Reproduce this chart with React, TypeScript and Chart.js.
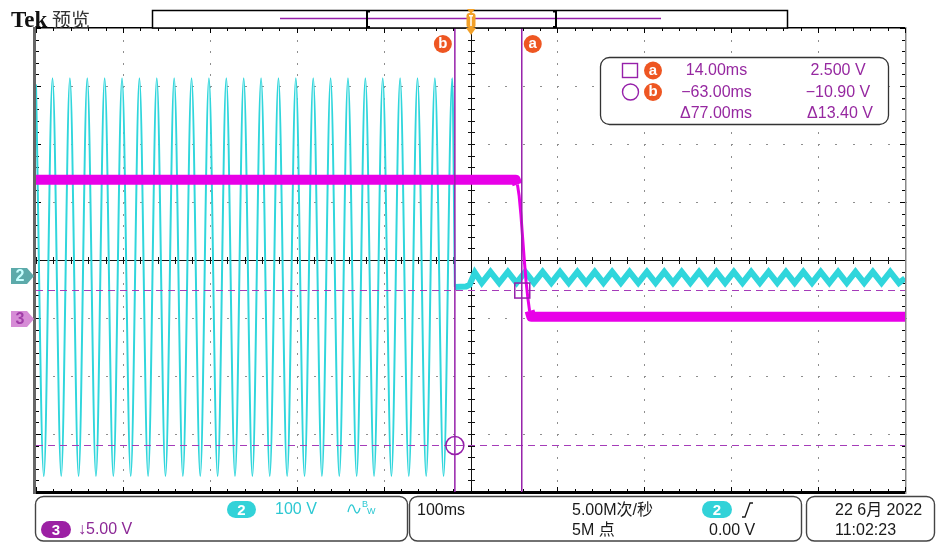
import React, { useEffect, useRef } from "react";
import { Chart, registerables } from "chart.js";

Chart.register(...registerables);

// Horizontal: 100 ms/div, 10 divisions (ms)
const timeMin = -545;
const timeMax = 455;
// CH2: 100 V/div, CH3: 5 V/div, 8 divisions
const ch2Min = -372.4;
const ch2Max = 427.6;
const ch3Min = -14.91;
const ch3Max = 25.09;

// Cursors
const cursorATime = 14;
const cursorBTime = -63;
const cursorAVolt = 2.5;
const cursorBVolt = -10.9;

// CH2 mains waveform before switch-off (ms, V)
const ch2SineTimes = [
  -545, -536, -526, -516, -506, -496, -486, -476, -466, -456, -446, -436, -426,
  -416, -406, -396, -386, -376, -366, -356, -346, -336, -326, -316, -306, -296,
  -286, -276, -266, -256, -246, -236, -226, -216, -206, -196, -186, -176, -166,
  -156, -146, -136, -126, -116, -106, -96, -86, -76, -66, -63,
];
const ch2SineVolts = [
  330, -345, 341, -345, 341, -345, 341, -345, 341, -345, 341, -345, 341,
  -345, 341, -345, 341, -345, 341, -345, 341, -345, 341, -345, 341, -345,
  341, -345, 341, -345, 341, -345, 341, -345, 341, -345, 341, -345, 341,
  -345, 341, -345, 341, -345, 341, -345, 341, -345, 341, -19,
];

// CH2 ripple after switch-off (ms, V)
const ch2RippleTimes = [
  -63, -50, -46, -40, -32, -22, -12, -2, 8, 18, 28, 38, 48, 58, 68, 78, 88, 98,
  108, 118, 128, 138, 148, 158, 168, 178, 188, 198, 208, 218, 228, 238, 248,
  258, 268, 278, 288, 298, 308, 318, 328, 338, 348, 358, 368, 378, 388, 398,
  408, 418, 428, 438, 448, 455,
];
const ch2RippleVolts = [
  -19, -18, -15, 6, -12, 7, -12, 7, -12, 7, -12, 7, -12, 7, -12, 7, -12, 7,
  -12, 7, -12, 7, -12, 7, -12, 7, -12, 7, -12, 7, -12, 7, -12, 7, -12, 7,
  -12, 7, -12, 7, -12, 7, -12, 7, -12, 7, -12, 7, -12, 7, -12, 7, -12, -4,
];

// CH3 output (ms, V)
const ch3Times = [-545, 7, 9, 11, 13, 15, 17, 19, 21, 23, 25, 455];
const ch3Volts = [12.0, 12.0, 11.6, 10.6, 9.0, 7.0, 5.0, 3.2, 1.8, 0.7, 0.2, 0.2];

const toPts = (t: number[], v: number[]) => t.map((x, i) => ({ x, y: v[i] }));

const CYAN = "rgb(48,214,220)";
const MAGENTA = "rgb(232,0,232)";
const PURPLE = "rgb(150,32,170)";
const ORANGE = "rgb(238,86,34)";
const SANS = '"Liberation Sans", "Noto Sans CJK SC", sans-serif';

function badge(ctx: CanvasRenderingContext2D, x: number, y: number, ch: string) {
  ctx.fillStyle = ORANGE;
  ctx.beginPath();
  ctx.arc(x, y, 9, 0, Math.PI * 2);
  ctx.fill();
  ctx.fillStyle = "#fff";
  ctx.font = `bold 15px ${SANS}`;
  ctx.textAlign = "center";
  ctx.textBaseline = "middle";
  ctx.fillText(ch, x, y);
}

function pill(ctx: CanvasRenderingContext2D, x: number, y: number, w: number, h: number, color: string, ch: string) {
  ctx.fillStyle = color;
  ctx.beginPath();
  ctx.roundRect(x, y, w, h, h / 2);
  ctx.fill();
  ctx.fillStyle = "#fff";
  ctx.font = `bold 15px ${SANS}`;
  ctx.textAlign = "center";
  ctx.textBaseline = "middle";
  ctx.fillText(ch, x + w / 2, y + h / 2 + 1);
}

function text(ctx: CanvasRenderingContext2D, s: string, x: number, y: number, color: string) {
  ctx.fillStyle = color;
  ctx.font = `16px ${SANS}`;
  ctx.textAlign = "left";
  ctx.textBaseline = "middle";
  ctx.fillText(s, x, y);
}

const graticule = {
  id: "graticule",
  beforeDatasetsDraw(chart: any) {
    const { ctx, chartArea: a } = chart;
    const dx = (a.right - a.left) / 10;
    const dy = (a.bottom - a.top) / 8;
    ctx.save();
    ctx.fillStyle = "#8e8e8e";
    for (let i = 1; i < 10; i++) {
      if (i === 5) continue;
      const x = Math.round(a.left + i * dx);
      for (let j = 0; j <= 40; j++) {
        const y = Math.round(a.top + (j * dy) / 5);
        ctx.fillRect(x, y, 1, 2);
      }
    }
    for (let j = 1; j < 8; j++) {
      if (j === 4) continue;
      const y = Math.round(a.top + j * dy);
      for (let i = 0; i <= 50; i++) {
        const x = Math.round(a.left + (i * dx) / 5);
        ctx.fillRect(x, y, 2, 1);
      }
    }
    // center cross
    ctx.fillStyle = "#111";
    const cx = Math.round(a.left + 5 * dx);
    const cy = Math.round(a.top + 4 * dy);
    ctx.fillRect(cx, a.top, 1, a.bottom - a.top);
    ctx.fillRect(a.left, cy, a.right - a.left, 1);
    for (let j = 0; j <= 40; j++) {
      const y = Math.round(a.top + (j * dy) / 5);
      ctx.fillRect(cx - 3, y, 7, 1);
    }
    for (let i = 0; i <= 50; i++) {
      const x = Math.round(a.left + (i * dx) / 5);
      ctx.fillRect(x, cy - 3, 1, 7);
    }
    // frame
    ctx.fillStyle = "#000";
    ctx.fillRect(a.left - 1, a.top - 1, a.right - a.left + 2, 1.5);
    ctx.fillRect(a.left - 1, a.bottom - 1, a.right - a.left + 2, 3);
    ctx.fillStyle = "#666";
    ctx.fillRect(a.left - 3, a.top - 1, 3, a.bottom - a.top + 3);
    ctx.fillStyle = "#888";
    ctx.fillRect(a.right, a.top - 1, 1.5, a.bottom - a.top + 3);
    ctx.fillStyle = "#000";
    for (let i = 0; i <= 50; i++) {
      const x = Math.round(a.left + (i * dx) / 5);
      const len = i % 5 === 0 ? 5 : 3;
      ctx.fillRect(x, a.top, 1, len);
      ctx.fillRect(x, a.bottom - len, 1, len);
    }
    for (let j = 0; j <= 40; j++) {
      const y = Math.round(a.top + (j * dy) / 5);
      const len = j % 5 === 0 ? 5 : 3;
      ctx.fillRect(a.left, y, len, 1);
      ctx.fillRect(a.right - len, y, len, 1);
    }
    ctx.restore();
  },
};

const overlay = {
  id: "overlay",
  afterDatasetsDraw(chart: any) {
    const { ctx, chartArea: a, scales } = chart;
    const xs = scales.x;
    const y3 = scales.y3;
    const xa = xs.getPixelForValue(cursorATime);
    const xb = xs.getPixelForValue(cursorBTime);
    const ya = y3.getPixelForValue(cursorAVolt);
    const yb = y3.getPixelForValue(cursorBVolt);
    ctx.save();
    ctx.strokeStyle = "rgb(165,60,185)";
    ctx.lineWidth = 1;
    ctx.setLineDash([7, 5]);
    [ya, yb].forEach((y) => {
      ctx.beginPath();
      ctx.moveTo(a.left, Math.round(y) + 0.5);
      ctx.lineTo(a.right, Math.round(y) + 0.5);
      ctx.stroke();
    });
    ctx.setLineDash([]);
    ctx.strokeStyle = PURPLE;
    ctx.lineWidth = 1.5;
    [xa, xb].forEach((x) => {
      ctx.beginPath();
      ctx.moveTo(x, a.top);
      ctx.lineTo(x, a.bottom);
      ctx.stroke();
    });
    ctx.strokeRect(xa - 7, ya - 7, 15, 15);
    ctx.beginPath();
    ctx.arc(xb, yb, 9, 0, Math.PI * 2);
    ctx.stroke();
    ctx.restore();
  },
  afterDraw(chart: any) {
    const { ctx, chartArea: a, scales } = chart;
    const xs = scales.x;
    const xa = xs.getPixelForValue(cursorATime);
    const xb = xs.getPixelForValue(cursorBTime);
    const y2g = scales.y2.getPixelForValue(0);
    const y3g = scales.y3.getPixelForValue(0);
    ctx.save();
    // header
    ctx.fillStyle = "#111";
    ctx.font = 'bold 23px "Liberation Serif", serif';
    ctx.textAlign = "left";
    ctx.textBaseline = "alphabetic";
    ctx.fillText("Tek", 11, 27);
    ctx.fillStyle = "#333";
    ctx.font = '19px "Noto Sans CJK SC", sans-serif';
    ctx.fillText("预览", 52, 27);

    // record-length bar
    ctx.fillStyle = "#fff";
    ctx.fillRect(152, 10, 636, 18);
    ctx.strokeStyle = "#000";
    ctx.lineWidth = 1.5;
    ctx.strokeRect(152.5, 10.5, 635, 17.5);
    ctx.strokeStyle = PURPLE;
    ctx.lineWidth = 1.5;
    ctx.beginPath();
    ctx.moveTo(280, 18.5);
    ctx.lineTo(661, 18.5);
    ctx.stroke();
    ctx.strokeStyle = "#000";
    ctx.lineWidth = 2;
    ctx.beginPath();
    ctx.moveTo(370, 11.5);
    ctx.lineTo(367, 11.5);
    ctx.lineTo(367, 27);
    ctx.lineTo(370, 27);
    ctx.moveTo(553, 11.5);
    ctx.lineTo(556, 11.5);
    ctx.lineTo(556, 27);
    ctx.lineTo(553, 27);
    ctx.stroke();
    // trigger marker
    const tx = Math.round(a.left + (a.right - a.left) / 2);
    ctx.fillStyle = "rgb(242,160,40)";
    ctx.beginPath();
    ctx.moveTo(tx - 4, 9);
    ctx.lineTo(tx + 4, 9);
    ctx.lineTo(tx, 14);
    ctx.fill();
    ctx.beginPath();
    ctx.roundRect(tx - 4.5, 13, 9, 15, 3);
    ctx.fill();
    ctx.beginPath();
    ctx.moveTo(tx - 5, 28);
    ctx.lineTo(tx + 5, 28);
    ctx.lineTo(tx, 35);
    ctx.fill();
    ctx.fillStyle = "#fff";
    ctx.fillRect(tx - 2, 15, 4, 1.5);
    ctx.fillRect(tx - 0.75, 15, 1.5, 11);

    // cursor badges
    badge(ctx, xb - 12, 44, "b");
    badge(ctx, xa + 11, 44, "a");

    // readout box
    ctx.fillStyle = "#fff";
    ctx.beginPath();
    ctx.roundRect(600.5, 57.5, 288, 67, 9);
    ctx.fill();
    ctx.strokeStyle = "#333";
    ctx.lineWidth = 1.3;
    ctx.stroke();
    ctx.strokeStyle = PURPLE;
    ctx.lineWidth = 1.4;
    ctx.strokeRect(622.5, 63.5, 15, 14);
    ctx.beginPath();
    ctx.arc(630.5, 92, 8, 0, Math.PI * 2);
    ctx.stroke();
    badge(ctx, 653, 70.5, "a");
    badge(ctx, 653, 92, "b");
    const fmt = (v: number, d: number) => (v < 0 ? "\u2212" : "") + Math.abs(v).toFixed(d);
    ctx.fillStyle = "rgb(150,40,160)";
    ctx.font = `16px ${SANS}`;
    ctx.textAlign = "center";
    ctx.textBaseline = "middle";
    ctx.fillText(fmt(cursorATime, 2) + "ms", 716.5, 71);
    ctx.fillText(fmt(cursorAVolt, 3) + " V", 838, 71);
    ctx.fillText(fmt(cursorBTime, 2) + "ms", 716.5, 92.5);
    ctx.fillText(fmt(cursorBVolt, 2) + " V", 838, 92.5);
    ctx.fillText("\u0394" + fmt(cursorATime - cursorBTime, 2) + "ms", 716, 114);
    ctx.fillText("\u0394" + fmt(cursorAVolt - cursorBVolt, 2) + " V", 840, 114);

    // ground markers
    const marker = (y: number, fill: string, txt: string, tcol: string) => {
      ctx.fillStyle = fill;
      ctx.beginPath();
      ctx.moveTo(11, y - 8);
      ctx.lineTo(27, y - 8);
      ctx.lineTo(34, y);
      ctx.lineTo(27, y + 8);
      ctx.lineTo(11, y + 8);
      ctx.closePath();
      ctx.fill();
      ctx.fillStyle = tcol;
      ctx.font = `bold 16px ${SANS}`;
      ctx.textAlign = "center";
      ctx.textBaseline = "middle";
      ctx.fillText(txt, 20, y + 1);
    };
    marker(y2g, "rgb(92,170,170)", "2", "rgb(200,255,255)");
    marker(y3g, "rgb(214,140,214)", "3", "rgb(160,60,168)");

    // bottom panels
    ctx.strokeStyle = "#444";
    ctx.lineWidth = 1.4;
    [
      [35.5, 496.5, 372, 44.5],
      [409.5, 496.5, 392, 44.5],
      [806.5, 496.5, 128, 44.5],
    ].forEach(([x, y, w, h]) => {
      ctx.beginPath();
      ctx.roundRect(x, y, w, h, 8);
      ctx.stroke();
    });
    pill(ctx, 227, 501, 29, 17, "rgb(50,210,216)", "2");
    text(ctx, "100 V", 275, 509.5, "rgb(44,200,210)");
    ctx.strokeStyle = "rgb(44,200,210)";
    ctx.lineWidth = 1.3;
    ctx.beginPath();
    ctx.moveTo(348, 512);
    ctx.quadraticCurveTo(351, 500, 354, 508);
    ctx.quadraticCurveTo(357, 518, 360, 508);
    ctx.stroke();
    ctx.font = `9px ${SANS}`;
    ctx.textAlign = "left";
    ctx.fillText("B", 362, 505);
    ctx.fillText("W", 367, 512);
    pill(ctx, 41, 521, 30, 17, "rgb(156,32,164)", "3");
    text(ctx, "\u2193" + "5.00 V", 78, 530, "rgb(140,40,150)");

    text(ctx, "100ms", 417, 510.5, "#1a1a1a");
    text(ctx, "5.00M次/秒", 572, 510.5, "#1a1a1a");
    text(ctx, "5M 点", 572, 531, "#1a1a1a");
    pill(ctx, 702, 501, 30, 17, "rgb(50,210,216)", "2");
    ctx.strokeStyle = "#1a1a1a";
    ctx.lineWidth = 1.3;
    ctx.beginPath();
    ctx.moveTo(742, 517);
    ctx.lineTo(745, 517);
    ctx.lineTo(750, 503);
    ctx.lineTo(753, 503);
    ctx.stroke();
    text(ctx, "0.00 V", 709, 531, "#1a1a1a");
    text(ctx, "22 6月 2022", 835, 510.5, "#1a1a1a");
    text(ctx, "11:02:23", 835, 531, "#1a1a1a");
    ctx.restore();
  },
};

export default function App() {
  const ref = useRef<HTMLCanvasElement>(null);
  useEffect(() => {
    const chart = new Chart(ref.current as HTMLCanvasElement, {
      type: "line",
      data: {
        datasets: [
          {
            label: "CH3",
            data: toPts(ch3Times, ch3Volts),
            yAxisID: "y3",
            borderColor: MAGENTA,
            borderWidth: 3,
            pointRadius: 0,
            tension: 0,
            borderCapStyle: "butt",
            borderJoinStyle: "round",
            segment: {
              borderWidth: (c: any) => (Math.abs(c.p0.parsed.y - c.p1.parsed.y) < 0.5 ? 10 : 3),
            },
          } as any,
          {
            label: "CH2 ripple",
            data: toPts(ch2RippleTimes, ch2RippleVolts),
            yAxisID: "y2",
            borderColor: CYAN,
            borderWidth: 6,
            pointRadius: 0,
            tension: 0,
          },
          {
            label: "CH2",
            data: toPts(ch2SineTimes, ch2SineVolts),
            yAxisID: "y2",
            borderColor: CYAN,
            borderWidth: 2,
            pointRadius: 0,
            cubicInterpolationMode: "monotone",
          },
        ],
      },
      options: {
        responsive: false,
        devicePixelRatio: 1,
        animation: false,
        events: [],
        layout: { padding: { left: 36, right: 34, top: 28, bottom: 65 } },
        plugins: { legend: { display: false }, tooltip: { enabled: false } },
        scales: {
          x: { type: "linear", min: timeMin, max: timeMax, display: false },
          y2: { type: "linear", axis: "y", min: ch2Min, max: ch2Max, display: false },
          y3: { type: "linear", axis: "y", min: ch3Min, max: ch3Max, display: false },
        } as any,
      },
      plugins: [graticule, overlay],
    });
    return () => chart.destroy();
  }, []);
  return (
    <div style={{ position: "fixed", left: 0, top: 0, width: 939, height: 557, background: "#fff" }}>
      <canvas ref={ref} width={939} height={557} style={{ display: "block", width: 939, height: 557 }} />
    </div>
  );
}
